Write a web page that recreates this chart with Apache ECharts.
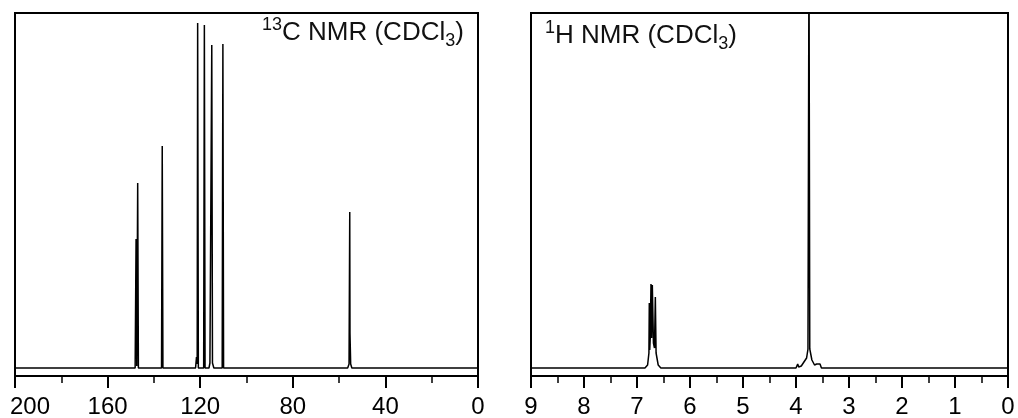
<!DOCTYPE html>
<html>
<head>
<meta charset="utf-8">
<script src="https://cdn.jsdelivr.net/npm/echarts@6/dist/echarts.min.js"></script>
<style>
html,body{margin:0;padding:0;background:#fff;}
#chart{width:1018px;height:418px;}
</style>
</head>
<body>
<div id="chart"></div>
<script>
// 13C spectrum (ppm, relative intensity)
var cShift = [200, 148.1, 147.7, 147.4, 147.0, 146.7, 136.7, 136.4, 136.1, 122.0, 121.6, 121.3, 121.1, 120.8, 118.5, 118.2, 117.9, 116.2, 115.8, 115.3, 115.0, 114.7, 114.4, 114.1, 110.5, 110.2, 109.9, 56.3, 55.7, 55.4, 55.3, 55.15, 55.0, 54.5, 0];
var cInt   = [0,   0,     129,   2,     185,   0,     0,     222,   0,     0,     11,    4,     345,   0,     0,     343,   0,     0,     5,     5,     323,   5,     4,     0,     0,     324,   0,     0,    4,    156,  35,   35,    4,    0,    0];
// 1H spectrum (ppm, relative intensity)
var hShift = [9, 6.85, 6.80, 6.775, 6.768, 6.76, 6.75, 6.736, 6.724, 6.711, 6.69, 6.67, 6.654, 6.64, 6.60, 6.55, 4.00, 3.968, 3.95, 3.90, 3.80, 3.774, 3.755, 3.74, 3.70, 3.65, 3.61, 3.58, 3.547, 3.52, 0];
var hInt   = [0, 0,    3,    15,    65,    18,   30,   84,    30,    83,    25,   20,   71,    15,   3,    0,    0,    4,     1,    2,    10,   19,    420,   19,   8,    3,    4,    2,    4,     0,    0];
// axis tick labels
var cTicks = [200, 160, 120, 80, 40, 0];
var hTicks = [9, 8, 7, 6, 5, 4, 3, 2, 1, 0];

var FONT = "'Liberation Sans', Arial, sans-serif";
function zip(a, b) { return a.map(function (v, i) { return [v, b[i]]; }); }

function xAx(idx, min, max, interval, ticks, edgeVal) {
  return {
    gridIndex: idx, type: 'value', inverse: true, min: min, max: max, interval: interval,
    axisLine: { show: true, onZero: false, lineStyle: { color: '#000', width: 2 } },
    axisTick: { show: true, length: 12, lineStyle: { color: '#000', width: 2 } },
    minorTick: { show: true, splitNumber: 2, length: 7, lineStyle: { color: '#000', width: 1.5 } },
    splitLine: { show: false },
    axisLabel: {
      fontSize: 24, color: '#000', fontFamily: FONT, margin: 19,
      showMinLabel: true, showMaxLabel: true, hideOverlap: false,
      rich: { e: { fontSize: 24, color: '#000', fontFamily: FONT, padding: [0, 0, 0, 30] } },
      formatter: function (v) {
        if (ticks.indexOf(v) < 0) return '';
        return v === edgeVal ? '{e|' + v + '}' : String(v);
      }
    }
  };
}
function yAx(idx) {
  return { gridIndex: idx, type: 'value', min: -8, max: 355, show: false, splitLine: { show: false } };
}
function titleText(x, y, sup, main) {
  return {
    type: 'text', x: x, y: y, silent: true,
    style: {
      text: '{sup|' + sup + '}{n|' + main + '}{sub|3}{n|)}',
      align: 'left', verticalAlign: 'top',
      fill: '#111', fontFamily: FONT,
      rich: {
        n: { fontSize: 26, lineHeight: 34, fontFamily: FONT, fill: '#111', color: '#111' },
        sup: { fontSize: 18, lineHeight: 29, verticalAlign: 'top', fontFamily: FONT, fill: '#111', color: '#111' },
        sub: { fontSize: 18, lineHeight: 13, verticalAlign: 'bottom', fontFamily: FONT, fill: '#111', color: '#111' }
      }
    }
  };
}

var chart = echarts.init(document.getElementById('chart'), null, { renderer: 'canvas' });
chart.setOption({
  animation: false,
  backgroundColor: '#fff',
  grid: [
    { left: 15, top: 13, width: 463, height: 363, show: true, borderColor: '#000', borderWidth: 2, backgroundColor: 'transparent', containLabel: false, outerBoundsMode: 'none' },
    { left: 531, top: 13, width: 477, height: 363, show: true, borderColor: '#000', borderWidth: 2, backgroundColor: 'transparent', containLabel: false, outerBoundsMode: 'none' }
  ],
  xAxis: [xAx(0, 0, 200, 40, cTicks, 200), xAx(1, 0, 9, 1, hTicks, null)],
  yAxis: [yAx(0), yAx(1)],
  series: [
    { type: 'line', xAxisIndex: 0, yAxisIndex: 0, data: zip(cShift, cInt), symbol: 'none', clip: true,
      lineStyle: { color: '#000', width: 1.5 } },
    { type: 'line', xAxisIndex: 1, yAxisIndex: 1, data: zip(hShift, hInt), symbol: 'none', clip: true,
      lineStyle: { color: '#000', width: 1.5 } }
  ],
  graphic: [
    titleText(262, 16, '13', 'C NMR (CDCl'),
    titleText(545, 19, '1', 'H NMR (CDCl')
  ]
});
</script>
</body>
</html>
